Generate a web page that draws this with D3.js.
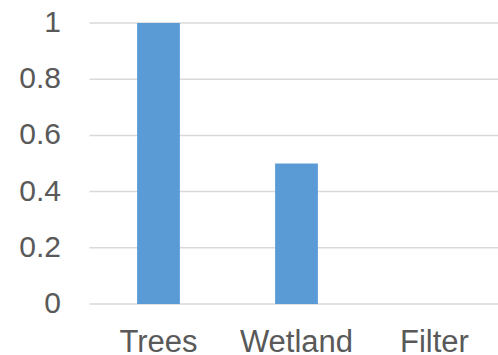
<!DOCTYPE html>
<html>
<head>
<meta charset="utf-8">
<script src="https://cdn.jsdelivr.net/npm/d3@7"></script>
<style>
  body { margin: 0; background: #fff; }
  text { font-family: "Liberation Sans", Arial, sans-serif; fill: #595959; }
</style>
</head>
<body>
<svg id="chart" width="498" height="355"></svg>
<script>
const WIDTH = 498;
const HEIGHT = 355;
const MARGIN = { left: 89.5, right: -5.5, top: 23, bottom: 51 };

const categories = ["Trees", "Wetland", "Filter"];
const values = [1, 0.5, 0];
const yTicks = [0, 0.2, 0.4, 0.6, 0.8, 1];

const svg = d3.select("#chart");

const xScale = d3.scaleBand()
  .domain(categories)
  .range([MARGIN.left, WIDTH - MARGIN.right])
  .paddingInner(0.69)
  .paddingOuter(0.345);

const yScale = d3.scaleLinear()
  .domain([0, 1])
  .range([HEIGHT - MARGIN.bottom, MARGIN.top]);

// gridlines
svg.append("g")
  .selectAll("line")
  .data(yTicks)
  .join("line")
  .attr("x1", MARGIN.left)
  .attr("x2", WIDTH - MARGIN.right)
  .attr("y1", d => yScale(d))
  .attr("y2", d => yScale(d))
  .attr("stroke", "#d9d9d9")
  .attr("stroke-width", 1.5);

// y labels
svg.append("g")
  .selectAll("text")
  .data(yTicks)
  .join("text")
  .attr("x", 61)
  .attr("y", d => yScale(d))
  .attr("dy", "0.3em")
  .attr("text-anchor", "end")
  .style("font-size", "30px")
  .text(d => d3.format("~g")(d));

// bars
svg.append("g")
  .selectAll("rect")
  .data(values)
  .join("rect")
  .attr("x", (d, i) => xScale(categories[i]))
  .attr("width", xScale.bandwidth())
  .attr("y", d => yScale(d))
  .attr("height", d => yScale(0) - yScale(d))
  .attr("fill", "#5b9bd5");

// x labels
svg.append("g")
  .selectAll("text")
  .data(categories)
  .join("text")
  .attr("x", d => xScale(d) + xScale.bandwidth() / 2)
  .attr("y", 352)
  .attr("text-anchor", "middle")
  .style("font-size", "31px")
  .text(d => d);
</script>
</body>
</html>
